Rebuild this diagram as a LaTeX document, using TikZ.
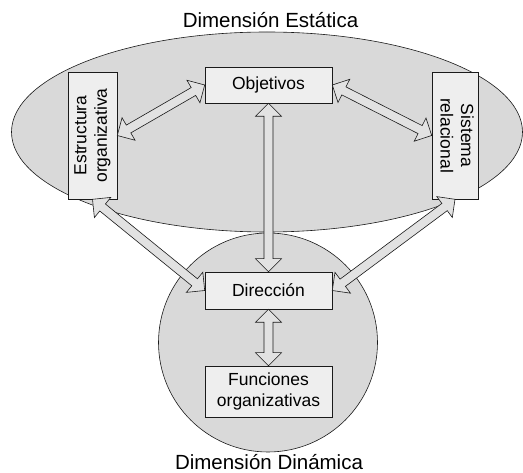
\documentclass[tikz,border=0pt]{standalone}
\usepackage{fontspec}
\setmainfont{Liberation Sans}
\usepackage{graphicx}
\usetikzlibrary{calc}

\definecolor{zonefill}{HTML}{D9D9D9}
\definecolor{boxfill}{HTML}{EEEEEE}
\definecolor{arrowfill}{HTML}{E2E2E2}
\definecolor{ink}{HTML}{1A1A1A}

\tikzset{
  zone/.style={draw=ink, fill=zonefill, line width=0.6pt},
  item/.style={draw=ink, fill=boxfill, line width=0.6pt, inner sep=0pt,
    align=center, font=\fontsize{17.5}{20.5}\selectfont},
  blockarrow/.style={draw=ink, fill=arrowfill, line width=0.6pt, line join=miter},
  heading/.style={font=\fontsize{20.5}{24}\selectfont, anchor=base, inner sep=0pt}
}

% double-headed block arrow between two points
\newcommand\hl{13pt}  % head length
\newcommand\hw{13pt}  % half head width
\newcommand\sw{4.5pt} % half shaft width
\newcommand\dblarrow[2]{%
  \draw[blockarrow] (#1)
    -- ($ ($(#1)!\hl!(#2)$)!\hw!90:(#2) $)
    -- ($ ($(#1)!\hl!(#2)$)!\sw!90:(#2) $)
    -- ($ ($(#2)!\hl!(#1)$)!\sw!-90:(#1) $)
    -- ($ ($(#2)!\hl!(#1)$)!\hw!-90:(#1) $)
    -- (#2)
    -- ($ ($(#2)!\hl!(#1)$)!\hw!90:(#1) $)
    -- ($ ($(#2)!\hl!(#1)$)!\sw!90:(#1) $)
    -- ($ ($(#1)!\hl!(#2)$)!\sw!-90:(#2) $)
    -- ($ ($(#1)!\hl!(#2)$)!\hw!-90:(#2) $)
    -- cycle;}

\newcommand\sidetext[2]{\rotatebox{#1}{\begin{tabular}{@{}c@{}}#2\end{tabular}}}

\begin{document}
\begin{tikzpicture}[x=1pt, y=-1pt]
  \useasboundingbox (0,0) rectangle (523,473);

  % static and dynamic dimensions
  \draw[zone] (267,132) ellipse [x radius=255.5, y radius=100];
  \draw[zone] (268,342.5) circle [radius=109.5];

  \node[heading] (tEst) at (270.5,28) {Dimensión Estática};
  \node[heading] (tDin) at (269,470) {Dimensión Dinámica};

  % elements
  \node[item, minimum width=127pt, minimum height=36pt] (obj) at (268.5,85) {Objetivos};
  \node[item, minimum width=127pt, minimum height=37pt] (dir) at (268.5,290.5) {Dirección};
  \node[item, minimum width=127pt, minimum height=51pt] (fun) at (268.5,391.5) {Funciones\\organizativas};
  \node[item, minimum width=49pt, minimum height=127pt] (est) at (92.5,135.5)
    {\sidetext{90}{Estructura\\organizativa}};
  \node[item, minimum width=46pt, minimum height=127pt] (sis) at (455,135.5)
    {\sidetext{-90}{Sistema\\relacional}};

  % relations
  \dblarrow{est.east}{obj.west}
  \dblarrow{obj.east}{sis.west}
  \dblarrow{obj.south}{dir.north}
  \dblarrow{est.south}{dir.west}
  \dblarrow{sis.south}{dir.east}
  \dblarrow{dir.south}{fun.north}
\end{tikzpicture}
\end{document}
